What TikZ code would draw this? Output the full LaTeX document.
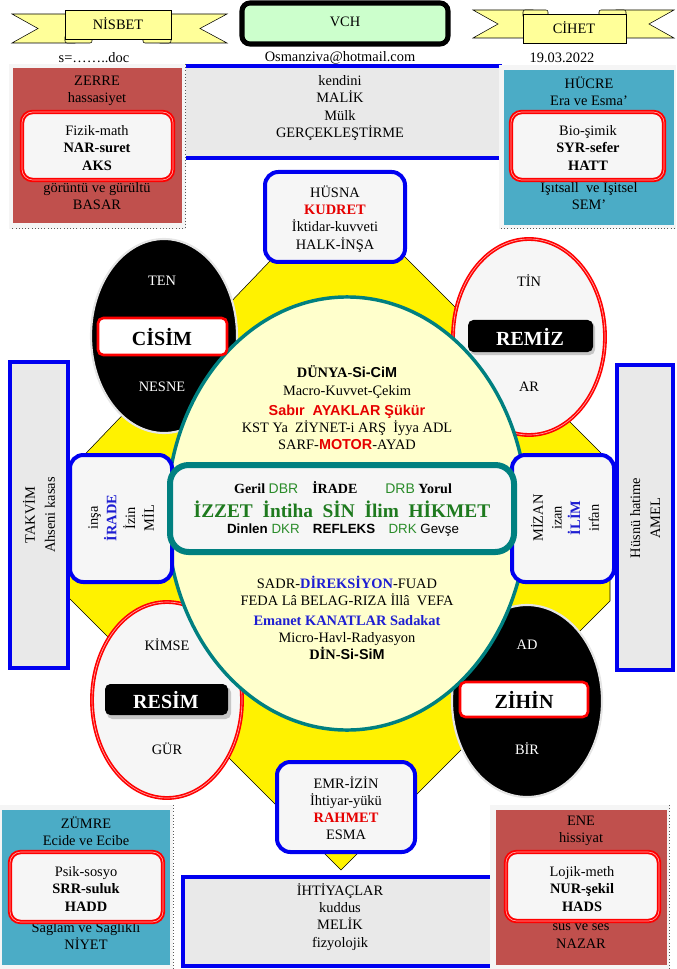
\documentclass[tikz,border=0pt]{standalone}
\usepackage{fontspec}
\setmainfont{Liberation Serif}
\setsansfont{Liberation Sans}
\definecolor{ribbon}{HTML}{FFFF99}
\definecolor{vchgreen}{HTML}{CCFFCC}
\definecolor{brick}{HTML}{C0504D}
\definecolor{aqua}{HTML}{4BACC6}
\definecolor{panel}{HTML}{E9E9E9}
\definecolor{paper}{HTML}{F6F6F6}
\definecolor{cream}{HTML}{FFFFCC}
\definecolor{tealline}{HTML}{008080}
\definecolor{blueline}{HTML}{0000F0}
\definecolor{redtxt}{HTML}{E60000}
\definecolor{bluetxt}{HTML}{1E1ED2}
\definecolor{greentxt}{HTML}{1E7A1E}
\definecolor{lgreen}{HTML}{2A8C2A}
\tikzset{
	txt/.style={font=\fontsize{10.8}{12.9}\selectfont, align=center, inner sep=0pt},
	vtxt/.style={font=\fontsize{10.8}{14}\selectfont, align=center, inner sep=0pt, rotate=90},
	bigtxt/.style={font=\fontsize{15}{17}\selectfont\bfseries, inner sep=0pt},
	band/.style={draw=black, thin, fill=ribbon},
	bluebox/.style={draw=blueline, line width=3pt, rounded corners=10pt, fill=paper},
	redbox/.style={draw=red, line width=1.4pt, double=red!35!white, double distance=0.5pt, rounded corners=8pt, fill=paper},
	redring/.style={draw=red, line width=1.2pt, double=red!35!white, double distance=0.5pt, fill=paper},
	blackring/.style={draw=gray!20, line width=1.6pt, fill=black},
}
\begin{document}
\begin{tikzpicture}[x=0.75pt,y=-0.75pt]
		\useasboundingbox (0,0) rectangle (676,969);
		% banners and title
		\draw[band] (75,14) -- (12,14) -- (38,28.5) -- (12,43) -- (75,43) -- cycle;
		\draw[band] (160,14) -- (227,14) -- (200,28.5) -- (227,43) -- (160,43) -- cycle;
		\draw[band, rounded corners=1.5pt] (65,35) rectangle (92,43);
		\draw[band, rounded corners=1.5pt] (143,35) rectangle (171,43);
		\draw[band] (65,10) rectangle (171,39);
		\node[txt] (nisbet) at (118,24) {NİSBET};
		\draw[band] (533,10) -- (473,10) -- (498,24) -- (473,38) -- (533,38) -- cycle;
		\draw[band] (616,10) -- (674,10) -- (649,24) -- (674,38) -- (616,38) -- cycle;
		\draw[band, rounded corners=1.5pt] (523,10) rectangle (548,18);
		\draw[band, rounded corners=1.5pt] (599,10) rectangle (626,18);
		\draw[band] (523,14) rectangle (626,43);
		\node[txt] (cihet) at (574,28) {CİHET};
		\draw[line width=3.8pt, rounded corners=6pt, fill=vchgreen] (242,3) rectangle (448,44);
		\node[txt] (vch) at (345,22) {VCH};
		\node[txt] (docname) at (94,58) {s=……..doc};
		\node[txt] (mail) at (340,58) {Osmanziva@hotmail.com};
		\node[txt] (date) at (562,58) {19.03.2022};
		% yellow body and centre
		\draw[draw=black, thin, fill=yellow] (338,190) -- (610,462) -- (610,601) -- (341,870) -- (68,597) -- (68,472) -- cycle;
		\draw[blackring] (164,336) ellipse (54.75pt and 72.75pt);
		\draw[redring] (529,337) ellipse (57pt and 73.5pt);
		\draw[redring] (167,700) ellipse (56.25pt and 73.5pt);
		\draw[blackring] (527,701) ellipse (56.25pt and 72pt);
		\draw[draw=tealline, line width=2.6pt, fill=cream] (347,513.5) ellipse (135pt and 162.4pt);
		% top panel
		\fill[panel] (185,66) rectangle (500,158);
		\draw[draw=blueline, line width=3pt] (185,66) -- (502,66);
		\draw[draw=blueline, line width=3pt] (185,158) -- (500,158);
		\node[txt] (malik) at (340,108) {kendini\\MALİK\\Mülk\\GERÇEKLEŞTİRME};
		% bottom panel
		\fill[panel] (183,877) rectangle (495,966);
		\draw[draw=blueline, line width=3pt] (495,877) -- (183,877) -- (183,966) -- (495,966);
		\node[txt] (melik) at (340,917) {İHTİYAÇLAR\\kuddus\\MELİK\\fizyolojik};
		% corner panels
		\fill[gray!8] (9,64) rectangle (186,229);
		\fill[brick] (13,68) rectangle (182,223);
		\draw[dotted, gray!70!black] (185,64) -- (185,228) -- (10,228);
		\node[txt] (zerre) at (97,91) {ZERRE\\hassasiyet};
		\node[txt] (basar) at (97,196) {görüntü ve gürültü\\BASAR};
		\draw[redbox] (22,112) rectangle (173,180);
		\node[txt] (aks) at (97,148) {Fizik-math\\\textbf{NAR-suret}\\\textbf{AKS}};
		\fill[gray!8] (499,65) rectangle (676,229);
		\fill[aqua] (504,70) rectangle (674,225);
		\draw[dotted, gray!70!black] (501,228) -- (676,228);
		\node[txt] (hucre) at (589,91) {HÜCRE\\Era ve Esma’};
		\node[txt] (sem) at (589,196) {Işıtsall~ ve Işitsel\\SEM’};
		\draw[redbox] (511,112) rectangle (664,180);
		\node[txt] (hatt) at (588,148) {Bio-şimik\\\textbf{SYR-sefer}\\\textbf{HATT}};
		\fill[gray!8] (0,805) rectangle (173,969);
		\fill[aqua] (2,810) rectangle (170,965);
		\draw[dotted, gray!70!black] (173,805) -- (173,969);
		\node[txt] (zumre) at (86,831) {ZÜMRE\\Ecide ve Ecibe};
		\node[txt] (niyet) at (86,936) {Sağlam ve Sağlıklı\\NİYET};
		\draw[redbox] (10,852) rectangle (163,922);
		\node[txt] (hadd) at (86,889) {Psik-sosyo\\\textbf{SRR-suluk}\\\textbf{HADD}};
		\fill[gray!8] (490,805) rectangle (670,969);
		\fill[brick] (496,810) rectangle (667,965);
		\draw[dotted, gray!70!black] (669,805) -- (669,969);
		\node[txt] (ene) at (581,831) {ENE\\hissiyat};
		\node[txt] (nazar) at (581,936) {sus ve ses\\NAZAR};
		\draw[redbox] (506,852) rectangle (659,921);
		\node[txt] (hads) at (582,889) {Lojik-meth\\\textbf{NUR-şekil}\\\textbf{HADS}};
		% blue boxes round the centre
		\draw[bluebox] (265,172) rectangle (405,262);
		\node[txt] (husna) at (335,219) {HÜSNA\\\textcolor{redtxt}{\textbf{KUDRET}}\\İktidar-kuvveti\\HALK-İNŞA};
		\draw[bluebox] (277,762) rectangle (415,852);
		\node[txt] (emr) at (346,808) {EMR-İZİN\\İhtiyar-yükü\\\textcolor{redtxt}{\textbf{RAHMET}}\\ESMA};
		\draw[bluebox] (70,455) rectangle (172,582);
		\node[vtxt] (irade) at (121,518) {inşa\\\textcolor{bluetxt}{\textbf{İRADE}}\\İzin\\MİL};
		\draw[bluebox] (512,455) rectangle (614,582);
		\node[vtxt] (ilim) at (565,518) {MİZAN\\izan\\\textcolor{bluetxt}{\textbf{İLİM}}\\irfan};
		\draw[draw=blueline, line width=3pt, fill=panel] (10,362) rectangle (68,668);
		\node[vtxt, font=\fontsize{10.8}{15}\selectfont] (takvim) at (39,515) {TAKVİM\\Ahseni kasas};
		\draw[draw=blueline, line width=3pt, fill=panel] (617,365) rectangle (673,670);
		\node[vtxt, font=\fontsize{10.8}{15}\selectfont] (amel) at (645,518) {Hüsnü hatime\\AMEL};
		% ellipse labels
		\node[txt, text=white] (ten) at (162,281) {TEN};
		\draw[draw=red, line width=2pt, fill=white, rounded corners=4pt] (98,318) rectangle (227,355);
		\node[bigtxt] (cisim) at (162,337) {CİSİM};
		\node[txt, text=white] (nesne) at (162,387) {NESNE};
		\node[txt] (tin) at (529,281) {TİN};
		\fill[gray!45, rounded corners=4pt] (470,322) rectangle (595,355);
		\fill[black, rounded corners=4pt] (468,320) rectangle (593,352);
		\node[bigtxt, text=white] (remiz) at (530,337) {REMİZ};
		\node[txt] (ar) at (529,387) {AR};
		\node[txt] (kimse) at (167,645) {KİMSE};
		\fill[gray!45, rounded corners=4pt] (107,687) rectangle (231,719);
		\fill[black, rounded corners=4pt] (105,684) rectangle (228,715);
		\node[bigtxt, text=white] (resim) at (166,700) {RESİM};
		\node[txt] (gur) at (167,749) {GÜR};
		\node[txt, text=white] (ad) at (527,645) {AD};
		\draw[draw=red, line width=2pt, fill=white, rounded corners=4pt] (460,682) rectangle (588,717);
		\node[bigtxt] (zihin) at (524,700) {ZİHİN};
		\node[txt, text=white] (bir) at (527,749) {BİR};
		% centre texts
		\node[txt] (dunya) at (347,408) {\textbf{DÜNYA-{\sffamily Si-CiM}}\\Macro-Kuvvet-Çekim\\[2.5pt]{\sffamily\bfseries\color{redtxt}Sabır~ AYAKLAR Şükür}\\KST Ya~ ZİYNET-i ARŞ~ İyya ADL\\SARF-\textcolor{redtxt}{\sffamily\bfseries MOTOR}-AYAD};
		\node[txt] (din) at (347,618) {SADR-\textcolor{bluetxt}{\textbf{DİREKSİYON}}-FUAD\\FEDA Lâ BELAG-RIZA İllâ~ VEFA\\[1.5pt]\textcolor{bluetxt}{\textbf{Emanet KANATLAR Sadakat}}\\Micro-Havl-Radyasyon\\\textbf{DİN-{\sffamily Si-SiM}}};
		\draw[draw=tealline, line width=4.5pt, rounded corners=14pt, fill=paper] (170,465) rectangle (514,552);
		\node[txt, font=\fontsize{10.5}{12}\selectfont] (geril) at (343,488) {\textbf{Geril} {\sffamily\color{lgreen}DBR}\quad\textbf{İRADE}\qquad{\sffamily\color{lgreen}DRB} \textbf{Yorul}};
		\node[txt, font=\fontsize{14.5}{17}\selectfont\bfseries, text=greentxt] (izzet) at (342,509) {İZZET~ İntiha~ SİN~ İlim~ HİKMET};
		\node[txt, font=\sffamily\fontsize{10}{12}\selectfont] (dinlen) at (343,530) {\textbf{Dinlen} {\color{lgreen}DKR}\quad\textbf{REFLEKS}\quad{\color{lgreen}DRK} Gevşe};
	\end{tikzpicture}
\end{document}
